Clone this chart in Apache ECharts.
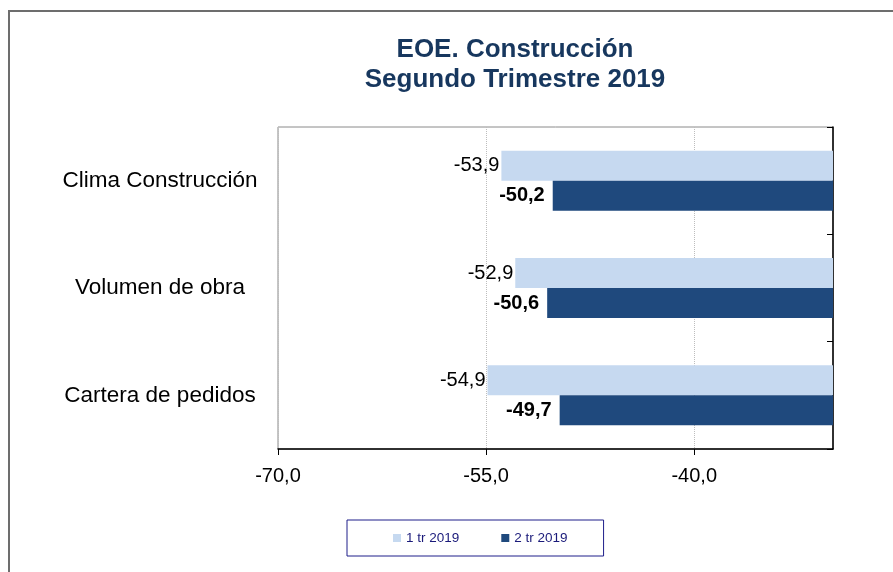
<!DOCTYPE html>
<html>
<head>
<meta charset="utf-8">
<script src="https://cdn.jsdelivr.net/npm/echarts@6/dist/echarts.min.js"></script>
<style>
  html, body { margin: 0; padding: 0; background: #fff; }
  #main { width: 893px; height: 572px; }
</style>
</head>
<body>
<div id="main"></div>
<script>
  const categories = ['Clima Construcción', 'Volumen de obra', 'Cartera de pedidos'];
  const serie1 = [-53.9, -52.9, -54.9];
  const serie2 = [-50.2, -50.6, -49.7];
  const seriesNames = ['1 tr 2019', '2 tr 2019'];

  const fmt = v => v.toFixed(1).replace('.', ',');
  const font = 'Liberation Sans, Arial, sans-serif';

  const chart = echarts.init(document.getElementById('main'), null, { renderer: 'canvas' });

  const option = {
    animation: false,
    textStyle: { fontFamily: font },
    title: {
      text: 'EOE. Construcción\nSegundo Trimestre 2019',
      left: 510,
      top: 30,
      textAlign: 'center',
      textStyle: { fontSize: 26, lineHeight: 30, fontWeight: 'bold', color: '#17375e', fontFamily: font }
    },
    graphic: [{
      type: 'rect',
      shape: { x: 9, y: 11, width: 1000, height: 1000 },
      style: { fill: 'none', stroke: '#6d6d6d', lineWidth: 2 },
      silent: true
    }],
    legend: {
      data: seriesNames,
      left: 347,
      top: 520,
      padding: [11, 36, 11, 46],
      itemGap: 42,
      itemWidth: 8,
      itemHeight: 8,
      icon: 'rect',
      borderColor: '#1e1e8a',
      borderWidth: 1,
      textStyle: { fontSize: 13.5, color: '#1a1a7a', fontFamily: font }
    },
    grid: {
      left: 278, right: 60, top: 127, bottom: 123,
      show: true, borderColor: '#8a8a8a', borderWidth: 1
    },
    xAxis: {
      type: 'value',
      min: -70, max: -30, interval: 15,
      axisLine: { show: true, onZero: false, lineStyle: { color: '#000', width: 1.5 } },
      axisTick: { show: true, length: 6, lineStyle: { color: '#000' } },
      axisLabel: { fontSize: 20, color: '#000', margin: 17, showMaxLabel: false, formatter: fmt },
      splitLine: { show: true, lineStyle: { color: '#bdbdbd', type: 'dotted' } }
    },
    yAxis: [{
      type: 'category',
      data: categories,
      inverse: true,
      position: 'left',
      axisLine: { show: false },
      axisTick: { show: false },
      axisLabel: { fontSize: 22.5, color: '#000', margin: 118, align: 'center' }
    }, {
      type: 'category',
      data: categories,
      inverse: true,
      position: 'right',
      axisLine: { show: true, onZero: false, lineStyle: { color: '#000', width: 1.5 } },
      axisTick: { show: true, inside: true, length: 6, lineStyle: { color: '#000' } },
      axisLabel: { show: false }
    }],
    series: [{
      name: seriesNames[0],
      type: 'bar',
      data: serie1,
      yAxisIndex: 0,
      barWidth: 30,
      barGap: '0%',
      itemStyle: { color: '#c6d9f0' },
      label: {
        show: true, position: 'left', distance: 2,
        fontSize: 20, color: '#000', fontFamily: font,
        formatter: p => fmt(p.value)
      }
    }, {
      name: seriesNames[1],
      type: 'bar',
      data: serie2,
      yAxisIndex: 0,
      barWidth: 30,
      barGap: '0%',
      itemStyle: { color: '#1f497d' },
      label: {
        show: true, position: 'left', distance: 8,
        fontSize: 20, fontWeight: 'bold', color: '#000', fontFamily: font,
        formatter: p => fmt(p.value)
      }
    }]
  };

  chart.setOption(option);
</script>
</body>
</html>
